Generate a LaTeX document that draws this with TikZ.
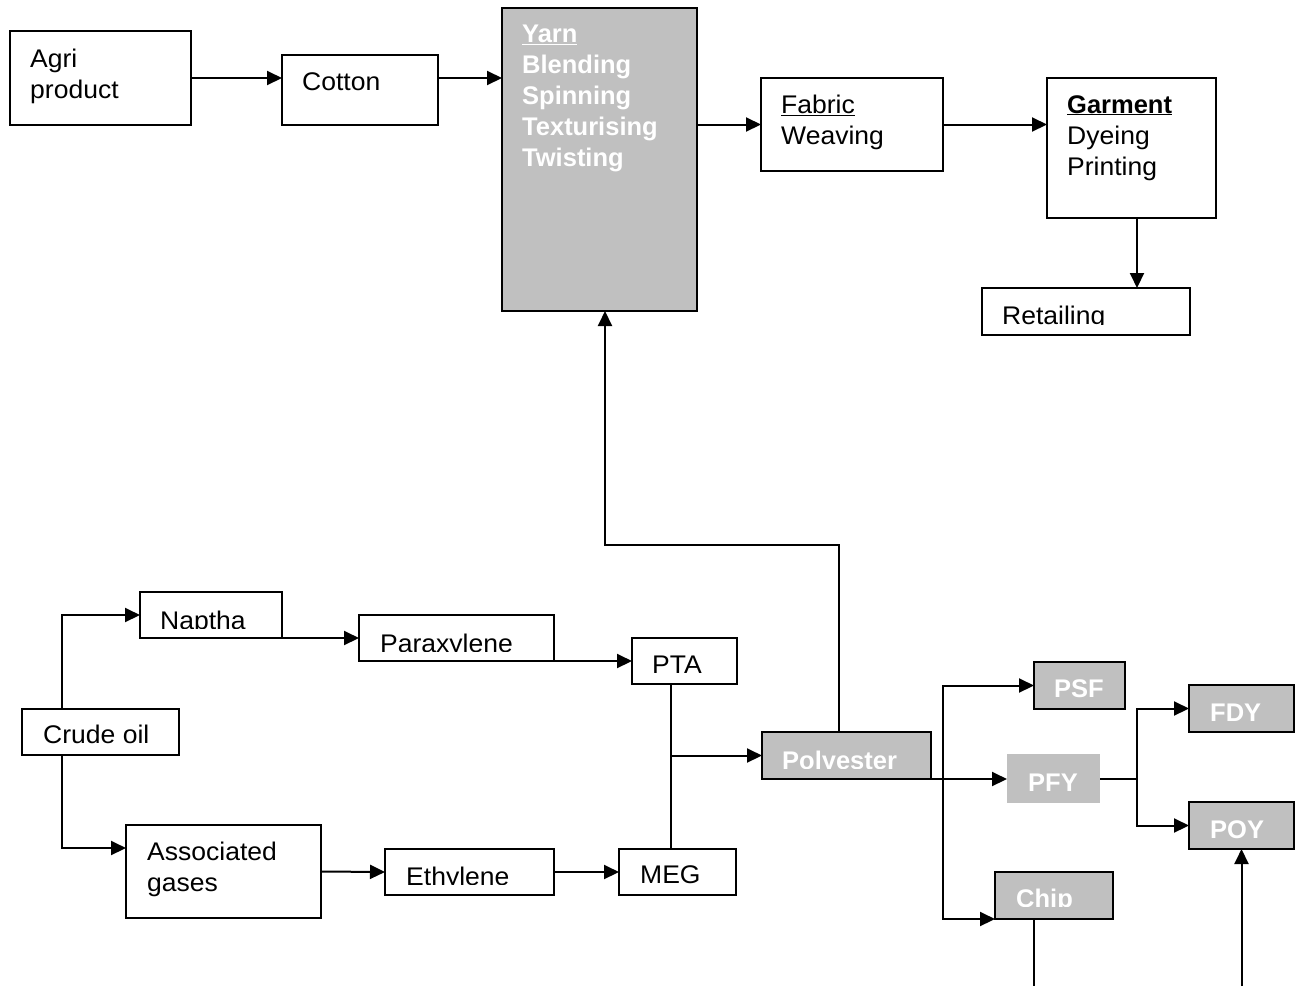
\documentclass[tikz,border=0pt]{standalone}
\usepackage{fontspec}
\setmainfont[FakeStretch=1.04]{Liberation Sans}
\newfontfamily\bfam{Liberation Sans}
\usetikzlibrary{arrows.meta}
\definecolor{boxgray}{RGB}{192,192,192}
\tikzset{
  box/.style={draw, line width=2pt, inner sep=0pt, outer sep=0pt, anchor=north west},
  graybox/.style={box, fill=boxgray},
  plaingray/.style={fill=boxgray, inner sep=0pt, outer sep=0pt, anchor=north west},
  lbl/.style={anchor=base west, inner sep=0pt, font=\fontsize{25.5}{31}\selectfont},
  mlbl/.style={anchor=north west, inner sep=0pt, align=left, font=\fontsize{25.5}{31}\selectfont},
  wlbl/.style={lbl, text=white, font=\fontsize{25.5}{31}\selectfont\bfam\bfseries},
  wmlbl/.style={mlbl, text=white, font=\fontsize{25.5}{31}\selectfont\bfam\bfseries},
  conn/.style={line width=2pt},
  arr/.style={conn, -{Triangle[length=15pt,width=14pt]}},
}
\begin{document}
\begin{tikzpicture}[x=1pt,y=-1pt]
\useasboundingbox (0,0) rectangle (1295,986);

% ---------- top row ----------
\node[box, minimum width=181, minimum height=94] (agri) at (10,31) {};
\node[mlbl] (agritxt) at (30,49) {Agri\\product};
\node[box, minimum width=156, minimum height=70] (cotton) at (282,55) {};
\node[lbl] (cottontxt) at (302,90) {Cotton};
\node[graybox, minimum width=195, minimum height=303] (yarn) at (502,8) {};
\node[wmlbl] (yarntxt) at (522,25) {\underline{Yarn}\\Blending\\Spinning\\Texturising\\Twisting};
\node[box, minimum width=182, minimum height=93] (fabric) at (761,78) {};
\node[mlbl] (fabrictxt) at (781,95) {\underline{Fabric}\\Weaving};
\node[box, minimum width=169, minimum height=140] (garm) at (1047,78) {};
\node[mlbl] (garmtxt) at (1067,95) {{\bfam\bfseries\underline{Garment}}\\Dyeing\\Printing};
\node[box, minimum width=208, minimum height=47] (retail) at (982,288) {};
\begin{scope}
  \clip (982,288) rectangle (1190,324);
  \node[lbl] (retailtxt) at (1002,324) {Retailing};
\end{scope}

% ---------- bottom left ----------
\node[box, minimum width=157, minimum height=46] (crude) at (22,709) {};
\node[lbl] (crudetxt) at (43,743) {Crude oil};
\node[box, minimum width=142, minimum height=46] (naptha) at (140,592) {};
\begin{scope}
  \clip (140,592) rectangle (282,628);
  \node[lbl] (naptxt) at (160,629) {Naptha};
\end{scope}
\node[box, minimum width=195, minimum height=46] (para) at (359,615) {};
\begin{scope}
  \clip (359,615) rectangle (554,651);
  \node[lbl] (paratxt) at (380,652) {Paraxylene};
\end{scope}
\node[box, minimum width=105, minimum height=46] (pta) at (632,638) {};
\node[lbl] (ptatxt) at (652,673) {PTA};
\node[box, minimum width=195, minimum height=93] (assoc) at (126,825) {};
\node[mlbl] (assoctxt) at (147,842) {Associated\\gases};
\node[box, minimum width=169, minimum height=46] (eth) at (385,849) {};
\begin{scope}
  \clip (385,849) rectangle (554,884);
  \node[lbl] (ethtxt) at (406,885) {Ethylene};
\end{scope}
\node[box, minimum width=117, minimum height=46] (meg) at (619,849) {};
\node[lbl] (megtxt) at (640,883) {MEG};

% ---------- bottom right ----------
\node[graybox, minimum width=169, minimum height=47] (poly) at (762,732) {};
\begin{scope}
  \clip (762,732) rectangle (931,768);
  \node[wlbl] (polytxt) at (782,769) {Polyester};
\end{scope}
\node[graybox, minimum width=91, minimum height=47] (psf) at (1034,662) {};
\node[wlbl] (psftxt) at (1054,697) {PSF};
\node[plaingray, minimum width=93, minimum height=49] (pfy) at (1007,754) {};
\node[wlbl] (pfytxt) at (1028,791) {PFY};
\node[graybox, minimum width=105, minimum height=47] (fdy) at (1189,685) {};
\node[wlbl] (fdytxt) at (1210,721) {FDY};
\node[graybox, minimum width=105, minimum height=47] (poy) at (1189,802) {};
\node[wlbl] (poytxt) at (1210,838) {POY};
\node[graybox, minimum width=118, minimum height=47] (chip) at (995,872) {};
\begin{scope}
  \clip (995,872) rectangle (1113,906);
  \node[wlbl] (chiptxt) at (1016,907) {Chip};
\end{scope}

% ---------- connectors ----------
\draw[arr] (agri.east) -- (agri.east -| cotton.west);
\draw[arr] (agri.east -| cotton.east) -- (agri.east -| yarn.west);
\draw[arr] (fabric.west -| yarn.east) -- (fabric.west);
\draw[arr] (fabric.east) -- (fabric.east -| garm.west);
\draw[arr] ([xshift=5.5pt]garm.south) -- ([xshift=5.5pt]garm.south |- retail.north);

\draw[arr] ([xshift=-7.5pt]poly.north) -- ++(0,-187) -| ([xshift=5.5pt]yarn.south);

\draw[arr] ([xshift=-38.5pt]crude.north) |- (naptha.west);
\draw[arr] ([xshift=-38.5pt]crude.south) |- ([yshift=23.5pt]assoc.west);
\draw[arr] (naptha.south east) -- (para.west);
\draw[arr] (para.south east) -- (pta.west);
\draw[arr] (assoc.east) -- (eth.west);
\draw[arr] (eth.east) -- (meg.west);

\coordinate (j) at (671,755.5);
\draw[conn] (pta.south -| j) -- (meg.north -| j);
\draw[arr] (j) -- (poly.west);

\draw[arr] (poly.south east) -- (pfy.west |- poly.south);
\coordinate (b1) at (943,779);
\draw[arr] (b1) |- (psf.west);
\draw[arr] (b1) |- (chip.south west);

\coordinate (b2) at (1137,779);
\draw[conn] (pfy.east |- b2) -- (b2);
\draw[arr] (b2) |- (fdy.west);
\draw[arr] (b2) |- (poy.west);

\coordinate (chipend) at (1034,986);
\draw[conn] (chip.south -| chipend) -- (chipend);
\coordinate (poyend) at (1241.5,986);
\draw[arr] (poyend) -- (poyend |- poy.south);
\end{tikzpicture}
\end{document}
